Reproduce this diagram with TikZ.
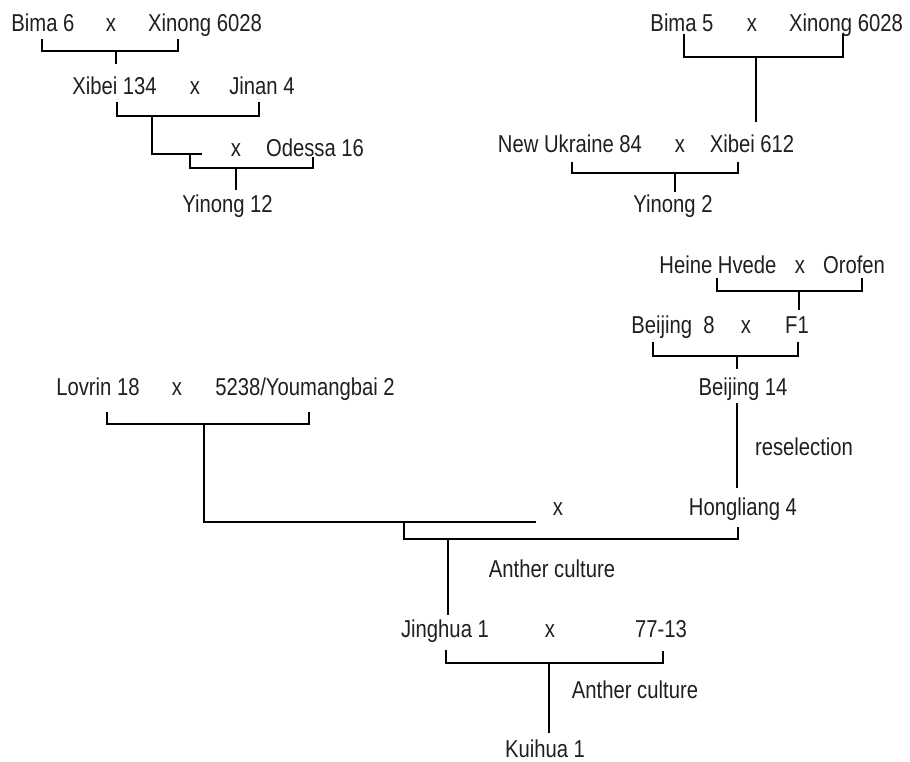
\documentclass[tikz,border=0pt]{standalone}
\usepackage{fontspec}
\setmainfont{Liberation Sans}[FakeStretch=0.83]
\definecolor{txt}{rgb}{0.12,0.12,0.12}
\begin{document}
\begin{tikzpicture}[x=1pt,y=-1pt,
  lbl/.style={anchor=base,inner sep=0pt,text=txt,font=\fontsize{24.4}{28}\selectfont},
  link/.style={draw=black,line width=2.6pt,line cap=butt,line join=miter}]
\useasboundingbox (0,0) rectangle (910,761);
% ---- top left
\node[lbl] (bima6) at (43,31) {Bima 6};
\node[lbl] (x1) at (111,31) {x};
\node[lbl] (xin1) at (205,31) {Xinong 6028};
\node[lbl] (xibei134) at (114.5,94) {Xibei 134};
\node[lbl] (x2) at (195,94) {x};
\node[lbl] (jinan4) at (262,94) {Jinan 4};
\node[lbl] (x3) at (236,156) {x};
\node[lbl] (odessa) at (315,156) {Odessa 16};
\node[lbl] (yinong12) at (227.5,212) {Yinong 12};
% ---- top right
\node[lbl] (bima5) at (682,31) {Bima 5};
\node[lbl] (x4) at (752,31) {x};
\node[lbl] (xin2) at (846,31) {Xinong 6028};
\node[lbl] (newukr) at (570,152) {New Ukraine 84};
\node[lbl] (x5) at (680,152) {x};
\node[lbl] (xibei612) at (752,152) {Xibei 612};
\node[lbl] (yinong2) at (673,212) {Yinong 2};
% ---- middle right
\node[lbl] (heine) at (718,273) {Heine Hvede};
\node[lbl] (x6) at (800,273) {x};
\node[lbl] (orofen) at (854,273) {Orofen};
\node[lbl] (beijing8) at (673,333) {Beijing\ \ 8};
\node[lbl] (x7) at (746,333) {x};
\node[lbl] (f1) at (797,333) {F1};
\node[lbl] (beijing14) at (743,395) {Beijing 14};
\node[lbl] (resel) at (804,455) {reselection};
\node[lbl] (hong4) at (743,515) {Hongliang 4};
% ---- middle left
\node[lbl] (lovrin) at (98,395) {Lovrin 18};
\node[lbl] (x8) at (177,395) {x};
\node[lbl] (youm) at (305,395) {5238/Youmangbai 2};
\node[lbl] (x9) at (558,515) {x};
% ---- bottom
\node[lbl] (anther1) at (552,577) {Anther culture};
\node[lbl] (jinghua) at (445,637) {Jinghua 1};
\node[lbl] (x10) at (550,637) {x};
\node[lbl] (s7713) at (661,637) {77-13};
\node[lbl] (anther2) at (635,698) {Anther culture};
\node[lbl] (kuihua) at (545,757) {Kuihua 1};

% ---- connector points
\coordinate (b1l) at (42,39);  \coordinate (b1r) at (178,39);
\coordinate (b1m) at (116,51); \coordinate (b1e) at (116,64);
\coordinate (b2l) at (117,102); \coordinate (b2r) at (259,102);
\coordinate (b2m) at (152,116); \coordinate (b2e) at (202,154);
\coordinate (b3l) at (190,154); \coordinate (b3r) at (313,157);
\coordinate (b3m) at (236,168); \coordinate (b3e) at (236,190);
\coordinate (b4l) at (684,34); \coordinate (b4r) at (843,34);
\coordinate (b4m) at (756,57); \coordinate (b4e) at (756,122);
\coordinate (b5l) at (572,162); \coordinate (b5r) at (738,162);
\coordinate (b5m) at (675,173); \coordinate (b5e) at (675,192);
\coordinate (b6l) at (717,278); \coordinate (b6r) at (862,278);
\coordinate (b6m) at (799,291); \coordinate (b6e) at (799,310);
\coordinate (b7l) at (653,342); \coordinate (b7r) at (798,342);
\coordinate (b7m) at (737,356); \coordinate (b7e) at (737,369);
\coordinate (rs1) at (737,403); \coordinate (rs2) at (737,488);
\coordinate (b8l) at (107,412); \coordinate (b8r) at (309,412);
\coordinate (b8m) at (204,424); \coordinate (b8e) at (536,522);
\coordinate (b9l) at (404,522); \coordinate (b9r) at (738,527);
\coordinate (b9m) at (448,539); \coordinate (b9e) at (448,615);
\coordinate (b10l) at (446,650); \coordinate (b10r) at (663,651);
\coordinate (b10m) at (549,663); \coordinate (b10e) at (549,733);

% ---- connectors
\draw[link] (b1l) |- (b1m) -| (b1r);  \draw[link] (b1m) -- (b1e);
\draw[link] (b2l) |- (b2m) -| (b2r);  \draw[link] (b2m) |- (b2e);
\draw[link] (b3l) |- (b3m) -| (b3r);  \draw[link] (b3m) -- (b3e);
\draw[link] (b4l) |- (b4m) -| (b4r);  \draw[link] (b4m) -- (b4e);
\draw[link] (b5l) |- (b5m) -| (b5r);  \draw[link] (b5m) -- (b5e);
\draw[link] (b6l) |- (b6m) -| (b6r);  \draw[link] (b6m) -- (b6e);
\draw[link] (b7l) |- (b7m) -| (b7r);  \draw[link] (b7m) -- (b7e);
\draw[link] (rs1) -- (rs2);
\draw[link] (b8l) |- (b8m) -| (b8r);  \draw[link] (b8m) |- (b8e);
\draw[link] (b9l) |- (b9m) -| (b9r);  \draw[link] (b9m) -- (b9e);
\draw[link] (b10l) |- (b10m) -| (b10r); \draw[link] (b10m) -- (b10e);
\end{tikzpicture}
\end{document}
